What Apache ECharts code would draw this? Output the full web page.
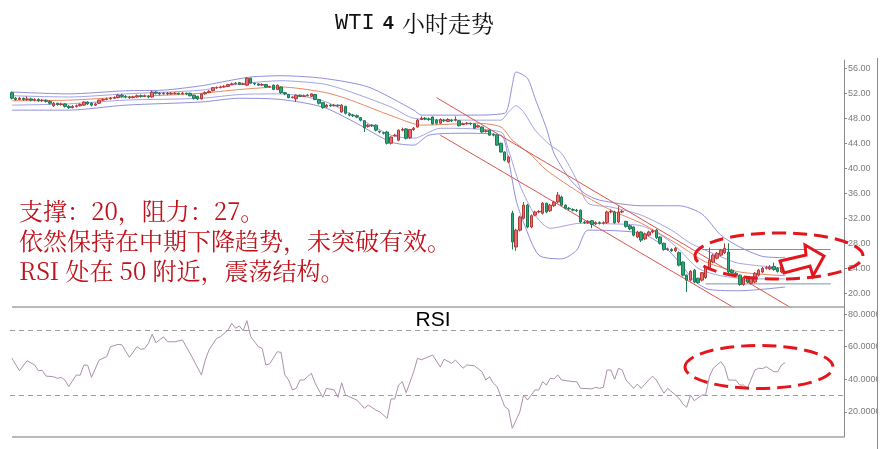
<!DOCTYPE html>
<html><head><meta charset="utf-8">
<script src="https://cdn.jsdelivr.net/npm/echarts@6/dist/echarts.min.js"></script>
<style>html,body{margin:0;padding:0;background:#fff}#c{width:885px;height:449px}</style>
</head><body><div id="c"></div>
<script>
// [open, close, low, high]
const candles = [
[52.1,51.2,51.0,52.3],[51.2,51.0,50.8,51.4],[51.0,51.2,50.9,51.4],[51.2,51.0,50.8,51.3],[51.0,51.1,50.8,51.5],
[51.1,50.9,50.7,51.3],[50.9,51.0,50.7,51.2],[51.0,50.8,50.6,51.2],[50.8,50.9,50.6,51.1],[50.9,50.7,50.5,51.0],
[50.7,50.4,50.2,50.9],[50.0,50.4,49.8,50.6],[50.4,50.2,50.0,50.5],[50.2,50.3,50.0,50.5],[50.3,49.9,49.7,50.4],
[49.9,49.7,49.5,50.1],[49.7,49.9,49.6,50.1],[49.9,50.0,49.7,50.2],[50.0,50.2,49.9,50.4],[50.1,50.6,50.0,50.7],
[50.6,50.3,50.1,50.7],[50.4,50.1,49.9,50.6],[50.1,50.3,50.0,50.5],[50.4,50.9,50.3,51.0],[50.9,51.0,50.8,51.2],
[51.0,51.1,50.9,51.3],[51.1,51.2,51.0,51.4],[51.2,51.3,51.1,51.5],[51.3,51.7,51.2,51.9],[51.7,51.5,51.3,51.9],
[51.5,51.4,51.2,51.7],[51.4,51.3,51.1,51.6],[51.3,51.4,51.2,51.6],[51.4,51.6,51.3,51.8],[51.6,51.5,51.3,51.8],
[51.5,51.6,51.4,51.8],[51.5,51.4,51.2,51.7],[51.4,52.2,51.3,52.4],[52.2,52.0,51.8,52.3],[52.0,51.9,51.7,52.2],
[51.9,52.0,51.8,52.2],[52.0,51.9,51.7,52.2],[51.9,52.0,51.8,52.2],[52.0,52.0,51.8,52.2],[52.0,51.9,51.7,52.1],
[51.9,52.0,51.8,52.2],[52.0,51.9,51.7,52.1],[52.0,51.6,51.5,52.1],[51.7,51.2,51.0,51.8],[51.5,51.1,50.9,51.6],
[51.1,51.9,51.0,52.0],[51.9,52.1,51.8,52.3],[52.1,52.3,52.0,52.5],[52.4,52.9,52.3,53.0],[52.9,52.9,52.7,53.1],
[52.9,53.0,52.8,53.2],[53.0,53.1,52.9,53.3],[53.1,53.4,53.0,53.5],[53.4,53.5,53.3,53.7],[53.5,53.6,53.4,53.8],
[53.7,53.4,53.3,53.8],[53.4,53.5,53.3,53.7],[53.3,54.4,53.2,54.6],[54.4,53.6,53.5,54.5],[53.6,53.5,53.3,53.7],
[53.5,53.3,53.2,53.6],[53.3,53.4,53.2,53.6],[53.4,53.0,52.9,53.5],[53.0,53.1,52.9,53.2],[53.3,52.6,52.5,53.4],
[52.6,53.3,52.5,53.4],[53.0,52.1,51.9,53.1],[52.1,51.9,51.7,52.2],[51.8,51.3,51.2,51.9],[51.3,51.4,51.2,51.5],
[51.1,51.7,50.6,51.8],[51.7,51.5,51.4,51.8],[51.5,51.6,51.4,51.8],[51.6,51.7,51.5,51.9],[51.5,51.9,51.4,52.0],
[51.8,51.0,50.9,51.9],[51.0,50.4,50.2,51.1],[50.5,49.7,49.5,50.6],[49.8,50.1,49.7,50.3],[50.1,50.0,49.8,50.3],
[50.0,50.1,49.9,50.3],[50.1,50.0,49.8,50.2],[49.0,50.1,48.9,50.3],[49.9,48.8,48.6,50.0],[48.7,48.5,48.3,48.9],
[48.5,48.4,48.2,48.7],[48.4,48.2,48.0,48.6],[48.1,47.7,47.5,48.2],[47.6,46.5,45.8,47.7],[46.7,46.9,46.5,47.1],
[46.9,46.8,46.6,47.0],[46.9,46.1,45.9,47.0],[45.9,45.8,45.6,46.0],[45.7,45.6,45.4,45.8],[45.8,44.0,43.8,46.0],
[44.0,45.0,43.8,45.1],[45.2,45.3,45.1,45.5],[44.5,46.1,44.3,46.2],[46.1,46.2,45.9,46.5],[46.3,44.8,44.6,46.4],
[44.9,46.2,44.7,46.3],[46.2,46.4,46.0,46.6],[46.6,47.7,46.5,47.9],[47.8,48.0,47.7,48.3],[48.0,47.9,47.7,48.2],
[47.9,47.8,47.6,48.1],[48.2,47.1,47.0,48.3],[47.7,47.2,47.0,47.9],[47.2,47.8,47.1,48.0],[47.7,47.6,47.4,47.9],
[47.5,47.8,47.4,48.0],[47.7,47.6,47.4,47.9],[47.7,47.8,47.5,48.3],[47.6,46.8,46.7,47.7],[47.0,47.1,46.9,47.3],
[47.1,47.2,47.0,47.4],[47.2,47.1,46.9,47.3],[47.1,46.4,46.3,47.2],[46.6,46.8,46.5,47.0],[46.6,45.8,45.7,46.7],
[45.9,46.0,45.7,46.2],[46.1,45.3,45.2,46.2],[45.4,45.3,45.1,45.6],[45.3,43.7,43.6,45.4],[44.0,42.6,42.5,44.1],
[42.6,41.3,41.1,42.7],[41.0,41.8,40.8,42.0],[32.8,28.2,27.0,33.2],[27.4,30.1,26.8,30.3],[30.1,32.2,29.9,32.4],
[32.0,34.1,31.8,34.6],[34.1,30.6,30.4,34.3],[30.6,32.4,30.4,32.6],[32.5,33.0,32.3,33.2],[33.0,33.1,32.8,33.3],
[32.8,34.4,32.6,34.6],[34.4,33.0,32.8,34.5],[33.2,34.1,33.0,34.3],[34.0,34.6,33.8,34.8],[34.6,35.7,34.4,36.2],
[35.4,34.1,33.9,35.6],[34.1,33.6,33.4,34.2],[33.6,33.5,33.3,33.8],[33.4,33.3,33.1,33.6],[33.3,33.2,33.0,33.5],
[33.3,31.4,31.2,33.4],[31.4,31.3,31.1,31.6],[31.3,31.5,31.1,31.7],[31.6,31.0,30.4,31.7],[31.1,31.3,30.9,31.5],
[31.3,31.2,31.0,31.5],[31.2,31.3,31.0,31.5],[31.3,33.0,31.1,33.2],[33.0,33.1,32.8,33.4],[33.0,31.3,31.1,33.2],
[31.4,33.0,31.2,33.9],[33.0,33.1,32.8,33.3],[31.5,30.7,30.5,31.6],[30.8,30.3,30.1,31.0],[30.6,29.3,29.1,30.7],
[29.0,29.8,28.8,30.0],[29.8,28.5,28.2,29.9],[28.7,29.5,28.5,29.7],[29.3,29.8,29.1,30.0],[29.8,30.0,29.6,30.2],
[30.1,28.9,28.7,30.3],[29.0,28.0,27.8,29.1],[28.0,27.0,26.8,28.1],[27.0,27.1,26.8,27.3],[27.0,26.8,26.6,27.2],
[26.8,27.2,26.6,27.4],[26.5,24.5,24.3,26.7],[25.0,22.9,22.7,25.1],[22.9,22.1,20.2,23.0],[22.1,23.5,21.9,23.7],
[23.7,21.8,21.6,23.9],[22.4,21.7,21.5,22.5],[22.1,23.3,21.9,23.4],[22.5,24.2,22.3,24.4],[24.0,25.3,23.8,27.3],
[25.0,26.1,24.8,26.3],[25.6,26.4,25.4,26.6],[26.1,26.9,25.9,27.1],[26.5,27.2,26.3,28.0],[26.6,23.4,23.2,28.0],
[23.7,23.3,23.1,23.9],[23.2,22.9,22.7,23.4],[22.9,21.4,21.2,23.0],[21.4,22.5,21.2,22.7],[22.5,21.8,21.6,22.6],
[21.6,22.4,21.4,22.6],[21.8,23.2,21.6,23.4],[22.9,23.7,22.7,23.9],[23.4,24.0,23.2,24.2],[24.0,24.1,23.8,24.4],
[23.9,24.2,23.7,24.5],[24.3,23.8,23.6,24.9],[24.0,23.5,23.3,24.2],[23.4,24.2,23.2,24.4],[24.2,24.3,24.0,24.6]
];
const emptySlots = 15;
const categories = [];
for (let i = 0; i < candles.length + emptySlots; i++) categories.push('K' + i);

// bands: [candle index, value]
const bandUpper2 = [[0,52.2],[15,51.9],[30,52.4],[40,52.5],[50,53.2],[58,54.1],[63,54.6],[71,54.8],[82,54.4],[94,53.0],[106,49.3],[108,48.5],[121,48.5],[130,48.8],[131,50.1],[132,53.3],[133,55.4],[136,54.4],[138,51.2],[141,46.4],[143,42.4],[147,38.4],[151,36.0],[155,34.9],[166,34.0],[176,34.0],[182,32.7],[187,29.3],[192,27.4],[198,25.9],[204,25.7]];
const bandUpper1 = [[0,51.6],[15,51.4],[30,51.9],[50,52.5],[60,53.5],[71,54.0],[82,53.5],[88,52.5],[100,49.8],[106,48.0],[118,47.7],[129,47.7],[131,49.0],[133,50.0],[135,49.0],[138,46.1],[142,43.7],[145,42.4],[149,38.1],[152,34.4],[158,33.8],[166,32.5],[174,30.1],[179,28.0],[186,26.1],[191,24.9],[197,24.4],[204,24.0]];
const bandMid = [[0,50.8],[15,50.9],[30,51.4],[50,52.0],[60,52.6],[71,53.0],[82,52.2],[88,51.2],[101,48.2],[108,46.9],[123,47.2],[129,46.6],[132,44.5],[137,42.1],[141,39.7],[150,36.0],[158,33.3],[166,31.2],[176,27.7],[183,25.0],[192,23.4],[204,22.8]];
const bandLower1 = [[0,50.1],[15,50.3],[30,50.9],[50,51.2],[60,51.8],[71,51.9],[82,50.8],[90,48.5],[100,45.3],[106,44.8],[113,46.4],[129,45.8],[131,42.9],[134,37.3],[138,32.5],[142,30.4],[150,31.2],[158,31.1],[166,30.8],[172,29.0],[176,27.0],[181,24.0],[187,22.8],[195,22.3],[204,22.3]];
const bandLower2 = [[0,49.3],[15,49.3],[30,50.1],[50,50.6],[60,51.2],[71,51.0],[82,49.8],[90,47.5],[100,44.2],[106,43.7],[110,45.3],[119,45.6],[129,45.3],[131,41.3],[133,34.9],[135,31.3],[139,26.1],[145,25.5],[149,26.9],[152,30.1],[166,29.6],[172,27.5],[176,25.0],[180,22.0],[184,20.6],[192,20.4],[204,21.0]];

const channelUpper = [[112,51.3],[206,17.5]];
const channelLower = [[113,45.3],[191,17.5]];
const resistance = [[182,27.0],[216,27.0]];
const support = [[183,21.5],[216,21.5]];

const rsi = [[0,52.9],[2,45.3],[4,51.4],[6,48.8],[7,45.3],[8,45.5],[9,42.0],[11,41.6],[12,40.6],[13,41.2],[14,39.6],[15,35.5],[17,42.7],[18,42.5],[19,48.8],[20,48.6],[21,41.2],[23,51.8],[25,53.9],[26,60.0],[28,61.4],[29,61.2],[31,53.5],[33,60.0],[34,58.4],[35,58.8],[36,62.0],[37,67.6],[38,62.4],[40,66.1],[41,63.0],[43,63.0],[45,64.1],[47,55.9],[50,42.7],[51,51.8],[52,58.0],[54,65.1],[55,66.1],[57,70.2],[58,74.3],[59,71.3],[60,72.7],[61,69.8],[62,75.9],[63,66.1],[65,60.0],[66,59.0],[67,48.8],[68,49.5],[70,56.9],[71,56.5],[72,42.7],[73,39.6],[74,33.5],[75,34.5],[76,39.6],[77,39.6],[79,43.7],[80,37.6],[82,29.0],[83,34.5],[85,33.5],[86,29.0],[87,37.9],[88,30.4],[90,28.4],[91,27.3],[93,22.3],[94,24.3],[96,21.2],[97,20.2],[99,16.1],[100,28.0],[101,28.0],[102,36.5],[103,38.6],[104,31.8],[106,44.7],[107,52.9],[108,52.0],[110,53.9],[111,54.9],[113,47.5],[114,52.3],[116,49.8],[117,51.8],[119,46.8],[120,48.8],[122,48.3],[124,44.7],[125,39.6],[126,41.6],[127,37.6],[128,35.5],[129,29.4],[130,23.3],[131,21.7],[132,10.0],[134,20.2],[135,30.4],[136,27.3],[138,33.5],[139,33.5],[140,38.6],[141,36.5],[142,40.6],[143,40.3],[144,42.7],[145,39.6],[148,38.6],[149,38.6],[150,34.5],[153,34.2],[154,35.1],[155,34.5],[156,35.1],[157,45.7],[158,45.7],[159,40.0],[160,46.8],[161,45.7],[162,39.6],[164,34.5],[165,37.1],[166,34.5],[168,39.6],[169,42.0],[170,39.6],[172,31.5],[173,34.5],[176,28.4],[177,24.9],[178,22.9],[179,30.4],[180,26.9],[182,30.4],[183,30.4],[184,41.6],[185,46.8],[186,48.8],[187,50.8],[188,47.7],[189,39.6],[191,39.5],[192,36.5],[193,36.5],[194,34.5],[196,45.7],[197,46.8],[198,46.5],[199,47.7],[201,44.7],[202,44.7],[203,48.8],[204,50.2]];

const priceTicks = [20,24,28,32,36,40,44,48,52,56];
const rsiTicks = [20,40,60,80];
const rsiLevels = [70,30];

const chart = echarts.init(document.getElementById('c'), null, {renderer: 'canvas'});
const purple = '#8f8fdc', purple2 = '#a3a3e6', orange = '#e8875e', chan = '#d8554f', hline = '#7f93a3';
const red = '#e3161d', txtRed = '#c0121a';
const cjk = '"Noto Serif CJK SC", "Noto Sans CJK SC"';
function bandSeries(data, color, w) {
  return {type: 'line', xAxisIndex: 0, yAxisIndex: 0, data: data, symbol: 'none', smooth: 0.25,
    lineStyle: {color: color, width: w || 1}, silent: true, z: 2};
}
function straight(data, color) {
  return {type: 'line', xAxisIndex: 0, yAxisIndex: 0, data: data, symbol: 'none',
    lineStyle: {color: color, width: 1}, silent: true, z: 2, clip: true};
}
function note(text, y) {
  return {type: 'text', x: 19, y: y, z: 10, style: {text: text, fill: txtRed,
    font: '24px ' + cjk, textVerticalAlign: 'middle'}};
}
const option = {
  animation: false,
  backgroundColor: '#ffffff',
  grid: [
    {left: 10, right: 41, top: 60, height: 247},
    {left: 10, right: 41, top: 307, height: 130}
  ],
  xAxis: [
    {type: 'category', gridIndex: 0, data: categories, show: false, boundaryGap: true},
    {type: 'category', gridIndex: 1, data: categories, show: false, boundaryGap: true}
  ],
  yAxis: [
    {type: 'value', gridIndex: 0, position: 'right', min: 17.8, max: 57.32, scale: true,
     axisLine: {show: true, lineStyle: {color: '#8a8a8a'}},
     axisTick: {show: true, length: 3, customValues: priceTicks, lineStyle: {color: '#8a8a8a'}},
     axisLabel: {customValues: priceTicks, margin: 4, fontSize: 9, color: '#7a7a7a', fontFamily: 'Liberation Sans',
       formatter: v => v.toFixed(2)},
     splitLine: {show: false}},
    {type: 'value', gridIndex: 1, position: 'right', min: 4.7, max: 84.3,
     axisLine: {show: true, lineStyle: {color: '#8a8a8a'}},
     axisTick: {show: true, length: 3, customValues: rsiTicks, lineStyle: {color: '#8a8a8a'}},
     axisLabel: {customValues: rsiTicks, margin: 4, fontSize: 9, color: '#7a7a7a', fontFamily: 'Liberation Sans',
       formatter: v => v.toFixed(4)},
     splitLine: {show: false}}
  ],
  series: [
    bandSeries(bandUpper2, purple),
    bandSeries(bandUpper1, purple2),
    bandSeries(bandMid, orange),
    bandSeries(bandLower1, purple2),
    bandSeries(bandLower2, purple),
    straight(channelUpper, chan),
    straight(channelLower, chan),
    straight(resistance, hline),
    straight(support, hline),
    {type: 'candlestick', xAxisIndex: 0, yAxisIndex: 0, data: candles, barWidth: 3, z: 3, silent: true,
     itemStyle: {color: '#e46c6c', color0: '#2da676', borderColor: '#b23a3a', borderColor0: '#1d7a54', borderWidth: 1}},
    {type: 'line', xAxisIndex: 1, yAxisIndex: 1, data: rsi, symbol: 'none', silent: true,
     lineStyle: {color: '#ac90ad', width: 1},
     markLine: {silent: true, symbol: 'none', label: {show: false},
       lineStyle: {color: '#9c9c9c', type: [5, 4], width: 1},
       data: rsiLevels.map(v => ({yAxis: v}))}}
  ],
  graphic: [
    {type: 'text', left: 335, top: 12, z: 10, style: {
      text: '{a|WTI}{s| }{b|4}{s| }{c|小时走势}',
      rich: {
        a: {fontFamily: 'Liberation Mono', fontSize: 22, fill: '#111'},
        s: {fontFamily: 'Liberation Mono', fontSize: 14},
        b: {fontFamily: 'Liberation Sans', fontWeight: 'bold', fontSize: 19, fill: '#111'},
        c: {fontFamily: cjk, fontSize: 23, fill: '#111'}
      }}},
    note('支撑：20，阻力：27。', 211),
    note('依然保持在中期下降趋势，未突破有效。', 241),
    note('RSI 处在 50 附近，震荡结构。', 271),
    {type: 'text', x: 433, y: 320, z: 10, style: {text: 'RSI', fill: '#000',
      font: '21px "Liberation Sans"', textAlign: 'center', textVerticalAlign: 'middle'}},
    {type: 'line', z: 5, shape: {x1: 12, y1: 307, x2: 844, y2: 307}, style: {stroke: '#a3a3a3', lineWidth: 1.5}},
    {type: 'line', z: 5, shape: {x1: 12, y1: 437, x2: 844, y2: 437}, style: {stroke: '#a3a3a3', lineWidth: 1.5}},
    {type: 'rect', z: 20, shape: {x: 877, y: 0, width: 8, height: 449}, style: {fill: '#ffffff'}},
    {type: 'line', z: 21, shape: {x1: 877.5, y1: 58, x2: 877.5, y2: 449}, style: {stroke: '#8a8a8a', lineWidth: 1}},
    {type: 'ellipse', z: 30, shape: {cx: 779, cy: 256, rx: 84, ry: 23}, style: {fill: null, stroke: red, lineWidth: 3, lineDash: [14, 7]}},
    {type: 'ellipse', z: 30, shape: {cx: 759, cy: 367, rx: 74, ry: 21.5}, style: {fill: null, stroke: red, lineWidth: 3, lineDash: [14, 7]}},
    {type: 'polygon', z: 30, shape: {points: [[780,261],[806,255],[805,245],[824,256],[813,276],[810,266],[784,273]]},
      style: {fill: '#ffffff', stroke: red, lineWidth: 3, lineJoin: 'miter'}}
  ]
};
chart.setOption(option);
</script>
</body></html>
